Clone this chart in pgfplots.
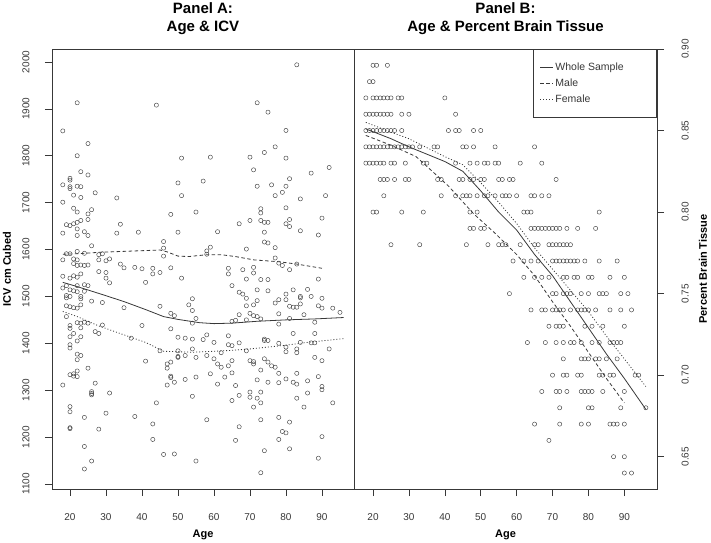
\documentclass[border=0pt]{standalone}
\usepackage{fontspec}
\setmainfont{Liberation Sans}
\usepackage{pgfplots}
\pgfplotsset{compat=1.18}

\definecolor{ink}{gray}{0.22}
\definecolor{pt}{gray}{0.25}

\pgfplotsset{
  panel/.style={
    scale only axis, height=440bp, enlargelimits=false,
    axis line style={ink, line width=0.6bp},
    tick align=outside, major tick length=7bp,
    tick style={ink, line width=0.6bp},
    xtick={20,30,...,90}, xtick pos=bottom,
    tick label style={font=\fontsize{10bp}{12bp}\selectfont, text=ink},
    /pgf/number format/assume math mode=true,
    /pgf/number format/1000 sep={},
    xticklabel shift=14bp,
    xlabel={Age},
    xlabel style={at={(axis description cs:0.5,-0.1045)}, anchor=center},
    label style={font=\bfseries\fontsize{11bp}{13bp}\selectfont},
    title style={font=\bfseries\fontsize{15bp}{18bp}\selectfont, align=center,
      at={(axis description cs:0.5,1.055)}, anchor=center, yshift=0pt},
  },
  pts/.style={only marks, mark=o, mark size=2.1bp,
    mark options={line width=0.45bp, draw=pt}},
  whole/.style={ink, line width=0.8bp, no marks},
  male/.style={ink, line width=0.8bp, dash pattern=on 3.5bp off 2.5bp, no marks},
  female/.style={ink, line width=0.8bp, dash pattern=on 1bp off 2bp, no marks},
}

\begin{document}
\begin{tikzpicture}
\useasboundingbox (0,0) rectangle (711bp,543bp);

% Panel A
\begin{axis}[panel,
  at={(52bp,54bp)}, anchor=south west, width=302bp,
  xmin=15, xmax=98.9, ymin=1089.3, ymax=2027.7,
  ytick={1100,1200,...,2000}, ytick pos=left,
  yticklabel style={rotate=90, anchor=south},
  yticklabel shift=12bp,
  ylabel={ICV cm Cubed},
  ylabel style={at={(axis description cs:-0.149,0.5)}, anchor=center},
  title={Panel A:\\Age \& ICV},
]
\addplot[pts] coordinates {
(18,1853) (22,1913) (22,1800) (25,1826) (23,1766) (25,1759) (20,1752) (20,1748)
(18,1738) (20,1734) (20,1730) (22,1735) (23,1734) (27,1721) (21,1716) (23,1711)
(33,1710) (18,1701) (21,1688) (22,1680) (26,1685) (25,1676) (25,1664) (34,1654)
(20,1651) (22,1658) (23,1662) (19,1653) (21,1655) (18,1635) (22,1644) (24,1638)
(25,1630) (33,1635) (39,1637) (22,1630) (26,1608)
(19,1591) (20,1591) (18,1578) (22,1596) (24,1592) (28,1589) (29,1591) (31,1580)
(30,1576) (28,1578) (21,1580) (22,1578) (21,1570) (22,1566) (23,1567) (24,1566)
(25,1567) (34,1569) (38,1562) (40,1559) (30,1551)
(18,1543) (20,1539) (21,1544) (22,1541) (23,1548) (28,1553) (30,1539) (31,1529)
(35,1561) (41,1530)
(18,1518) (19,1523) (20,1514) (21,1512) (22,1510) (22,1523) (24,1525) (25,1523)
(24,1511) (19,1502) (19,1497) (20,1500) (23,1500) (23,1495) (26,1490) (29,1487)
(19,1480) (20,1478) (21,1476) (22,1475) (23,1482) (35,1476) (19,1457) (20,1438)
(20,1432) (22,1444) (23,1443) (24,1445) (25,1443) (29,1439) (27,1425) (28,1421)
(21,1421) (23,1433) (20,1414) (22,1405) (23,1414) (37,1411) (40,1438) (20,1397)
(20,1390) (22,1377) (23,1374) (22,1365) (41,1362) (25,1347) (22,1341) (20,1333)
(21,1330) (22,1329) (21,1335) (18,1311) (27,1315) (26,1297) (26,1290) (26,1293)
(31,1294) (20,1265) (20,1254) (24,1242) (30,1251) (20,1220) (20,1218) (28,1217)
(38,1244) (24,1180) (26,1149) (24,1132)
(44,1908) (51,1795) (59,1797) (70,1797) (71,1770) (50,1742) (57,1746) (51,1715)
(48,1675) (55,1680) (67,1655) (70,1662) (50,1637) (61,1638) (46,1617) (46,1603)
(46,1586) (58,1590) (59,1605) (58,1597) (69,1601)
(43,1560) (43,1548) (45,1551) (48,1561) (51,1539) (64,1560) (64,1548) (68,1557)
(71,1562) (71,1550) (69,1537)
(65,1523) (67,1509) (68,1505) (69,1496) (69,1480) (71,1482) (70,1464) (71,1459)
(54,1495) (54,1470) (53,1482) (45,1479) (48,1464) (49,1459) (55,1453) (54,1443)
(48,1431) (66,1449) (65,1447) (67,1461) (69,1450)
(50,1413) (52,1411) (54,1409) (58,1418) (57,1408) (60,1402) (64,1416) (65,1395)
(64,1397) (67,1401)
(45,1384) (50,1384) (50,1372) (50,1370) (52,1374) (54,1388) (55,1370) (58,1374)
(62,1380) (60,1367) (61,1356) (62,1349) (64,1352) (65,1363) (69,1384) (70,1363)
(71,1361) (71,1356) (47,1356) (48,1360) (47,1347) (48,1330) (48,1327) (47,1311)
(49,1317) (52,1323) (55,1328) (59,1335) (61,1313) (63,1328) (65,1337) (66,1310)
(67,1289) (65,1278) (70,1296) (70,1285) (71,1264) (44,1273) (54,1287) (43,1228)
(43,1195) (58,1237) (67,1222) (66,1193) (46,1163) (49,1164) (55,1149)
(83,1994) (72,1913) (75,1893) (80,1854) (77,1819) (74,1807) (80,1795) (92,1775)
(87,1763) (81,1751) (72,1735) (76,1738) (80,1735) (77,1715) (79,1722) (91,1715)
(84,1708) (73,1687) (73,1678) (80,1689) (73,1662) (74,1658) (75,1658) (81,1664)
(80,1655) (81,1649) (90,1667) (84,1640) (74,1637) (89,1631) (74,1616) (75,1614)
(77,1604) (77,1582) (78,1571) (79,1566) (81,1557) (83,1569)
(73,1536) (75,1536) (89,1537) (72,1514) (75,1512) (82,1514) (86,1515) (90,1496)
(78,1493) (77,1486) (80,1505) (80,1493) (84,1500) (84,1497) (87,1500) (89,1480)
(90,1475) (93,1475) (95,1466) (81,1479) (82,1477) (83,1477) (84,1484) (78,1463)
(85,1461) (72,1457) (73,1452) (81,1453) (88,1445) (78,1441) (82,1421) (88,1421)
(72,1491) (74,1409) (74,1406) (75,1406) (78,1400) (80,1392) (80,1382) (83,1388)
(83,1380) (84,1402) (88,1401) (87,1401) (92,1388) (90,1363) (88,1370) (74,1367)
(75,1360) (76,1352) (77,1349) (72,1322) (75,1317) (78,1316) (80,1324) (82,1317)
(83,1313) (89,1329) (90,1308) (90,1301) (86,1320) (86,1294) (73,1296) (73,1273)
(72,1283) (73,1343) (78,1336) (83,1336) (83,1283) (85,1264) (93,1273) (73,1237)
(78,1242) (81,1232) (79,1212) (80,1209) (78,1195) (81,1175) (90,1201) (89,1155)
(74,1171) (73,1124)
};
\addplot[whole] coordinates {
(18,1530) (22,1521) (29,1504) (35,1489) (41,1472) (46,1457) (50,1451) (56,1444)
(60,1442) (65,1443) (72,1447) (80,1450) (88,1452) (96,1455)
};
\addplot[male] coordinates {
(18,1590) (22,1591) (28,1594) (38,1597) (45,1599) (47,1595) (50,1586) (53,1585)
(58,1589) (62,1589) (66,1585) (71,1578) (78,1574) (83,1569) (90,1560)
};
\addplot[female] coordinates {
(18,1468) (22,1457) (28,1437) (35,1418) (41,1402) (46,1383) (50,1382) (54,1381)
(60,1383) (65,1385) (70,1388) (75,1392) (80,1396) (86,1402) (96,1410)
};
\end{axis}

% Panel B
\begin{axis}[panel,
  at={(354bp,54bp)}, anchor=south west, width=303bp,
  xmin=14.7, xmax=99.1, ymin=0.6302, ymax=0.90,
  ytick={0.65,0.70,...,0.90}, ytick pos=right, yticklabel pos=right,
  yticklabel style={rotate=90, anchor=north,
    /pgf/number format/.cd, fixed, fixed zerofill, precision=2},
  yticklabel shift=14bp,
  ylabel={Percent Brain Tissue},
  ylabel style={at={(axis description cs:1.152,0.5)}, anchor=center},
  title={Panel B:\\Age \& Percent Brain Tissue},
  legend style={at={(1,1)}, anchor=north east, draw=ink, line width=0.6bp,
    font=\fontsize{10.5bp}{12bp}\selectfont, text=ink,
    inner xsep=6bp, inner ysep=12bp, row sep=2.5bp},
  legend cell align=left,
  legend image code/.code={\draw[#1] (4bp,0bp) -- (17bp,0bp);},
]
\addlegendimage{whole}
\addlegendentry{Whole Sample\hspace{25bp}\mbox{}}
\addlegendimage{male}
\addlegendentry{Male}
\addlegendimage{female}
\addlegendentry{Female}
\addplot[pts, forget plot] table[row sep=\\] {
x y\\
20 0.89\\ 21 0.89\\ 24 0.89\\
19 0.88\\ 20 0.88\\
18 0.87\\ 20 0.87\\ 21 0.87\\ 22 0.87\\ 23 0.87\\ 24 0.87\\ 25 0.87\\ 27 0.87\\ 28 0.87\\ 40 0.87\\
18 0.86\\ 19 0.86\\ 20 0.86\\ 21 0.86\\ 22 0.86\\ 23 0.86\\ 24 0.86\\ 25 0.86\\ 28 0.86\\ 30 0.86\\ 43 0.86\\
18 0.85\\ 19 0.85\\ 20 0.85\\ 21 0.85\\ 22 0.85\\ 23 0.85\\ 24 0.85\\ 25 0.85\\ 26 0.85\\ 28 0.85\\
41 0.85\\ 43 0.85\\ 44 0.85\\ 48 0.85\\ 50 0.85\\
18 0.84\\ 19 0.84\\ 20 0.84\\ 21 0.84\\ 22 0.84\\ 23 0.84\\ 24 0.84\\ 25 0.84\\ 26 0.84\\ 27 0.84\\
28 0.84\\ 29 0.84\\ 30 0.84\\ 31 0.84\\ 33 0.84\\ 37 0.84\\ 38 0.84\\ 45 0.84\\ 46 0.84\\ 48 0.84\\
54 0.84\\ 65 0.84\\
18 0.83\\ 19 0.83\\ 20 0.83\\ 21 0.83\\ 22 0.83\\ 23 0.83\\ 25 0.83\\ 26 0.83\\ 29 0.83\\ 34 0.83\\
35 0.83\\ 43 0.83\\ 47 0.83\\ 49 0.83\\ 51 0.83\\ 52 0.83\\ 54 0.83\\ 55 0.83\\ 61 0.83\\ 67 0.83\\
22 0.82\\ 23 0.82\\ 24 0.82\\ 26 0.82\\ 29 0.82\\ 30 0.82\\ 38 0.82\\ 39 0.82\\ 44 0.82\\ 45 0.82\\
47 0.82\\ 48 0.82\\ 50 0.82\\ 51 0.82\\ 55 0.82\\ 56 0.82\\ 58 0.82\\ 59 0.82\\ 71 0.82\\
23 0.81\\ 39 0.81\\ 43 0.81\\ 45 0.81\\ 46 0.81\\ 47 0.81\\ 49 0.81\\ 51 0.81\\ 52 0.81\\ 54 0.81\\
56 0.81\\ 57 0.81\\ 58 0.81\\ 60 0.81\\ 64 0.81\\ 65 0.81\\ 67 0.81\\ 69 0.81\\
20 0.80\\ 21 0.80\\ 28 0.80\\ 34 0.80\\ 47 0.80\\ 49 0.80\\ 62 0.80\\ 63 0.80\\ 64 0.80\\ 83 0.80\\
47 0.79\\ 48 0.79\\ 50 0.79\\ 51 0.79\\ 64 0.79\\ 65 0.79\\ 66 0.79\\ 67 0.79\\ 68 0.79\\ 69 0.79\\
70 0.79\\ 71 0.79\\ 72 0.79\\ 74 0.79\\ 77 0.79\\ 82 0.79\\
25 0.78\\ 33 0.78\\ 46 0.78\\ 52 0.78\\ 55 0.78\\ 56 0.78\\ 57 0.78\\ 61 0.78\\ 65 0.78\\ 66 0.78\\
69 0.78\\ 70 0.78\\ 71 0.78\\ 72 0.78\\ 73 0.78\\ 74 0.78\\ 75 0.78\\
59 0.77\\ 62 0.77\\ 64 0.77\\ 66 0.77\\ 70 0.77\\ 71 0.77\\ 72 0.77\\ 73 0.77\\ 74 0.77\\ 75 0.77\\
76 0.77\\ 77 0.77\\ 79 0.77\\ 83 0.77\\ 88 0.77\\
62 0.76\\ 65 0.76\\ 67 0.76\\ 69 0.76\\ 73 0.76\\ 74 0.76\\ 76 0.76\\ 77 0.76\\ 80 0.76\\ 81 0.76\\
86 0.76\\ 90 0.76\\
58 0.75\\ 70 0.75\\ 71 0.75\\ 73 0.75\\ 74 0.75\\ 75 0.75\\ 78 0.75\\ 80 0.75\\ 83 0.75\\ 84 0.75\\
85 0.75\\ 89 0.75\\ 91 0.75\\
64 0.74\\ 67 0.74\\ 68 0.74\\ 70 0.74\\ 71 0.74\\ 72 0.74\\ 73 0.74\\ 75 0.74\\ 77 0.74\\ 78 0.74\\
79 0.74\\ 80 0.74\\ 82 0.74\\ 86 0.74\\ 89 0.74\\ 92 0.74\\
69 0.73\\ 71 0.73\\ 72 0.73\\ 73 0.73\\ 79 0.73\\ 81 0.73\\ 84 0.73\\ 90 0.73\\
63 0.72\\ 68 0.72\\ 71 0.72\\ 73 0.72\\ 75 0.72\\ 76 0.72\\ 78 0.72\\ 81 0.72\\ 83 0.72\\ 86 0.72\\
87 0.72\\ 88 0.72\\ 89 0.72\\
73 0.71\\ 78 0.71\\ 79 0.71\\ 80 0.71\\ 82 0.71\\ 83 0.71\\ 85 0.71\\ 88 0.71\\
70 0.70\\ 73 0.70\\ 74 0.70\\ 77 0.70\\ 78 0.70\\ 83 0.70\\ 84 0.70\\ 86 0.70\\ 87 0.70\\ 93 0.70\\ 94 0.70\\
67 0.69\\ 71 0.69\\ 72 0.69\\ 74 0.69\\ 78 0.69\\ 79 0.69\\ 80 0.69\\ 81 0.69\\ 84 0.69\\ 90 0.69\\
72 0.68\\ 80 0.68\\ 81 0.68\\ 89 0.68\\ 96 0.68\\
65 0.67\\ 72 0.67\\ 78 0.67\\ 80 0.67\\ 86 0.67\\ 87 0.67\\ 88 0.67\\ 90 0.67\\
69 0.66\\
87 0.65\\ 90 0.65\\
90 0.64\\ 92 0.64\\
};
\addplot[whole, forget plot] coordinates {
(18,0.851) (25,0.845) (30,0.840) (40,0.831) (45,0.825) (50,0.813) (55,0.800)
(60,0.789) (65,0.774) (70,0.761) (75,0.745) (80,0.729) (85,0.713) (90,0.698) (96,0.679)
};
\addplot[male, forget plot] coordinates {
(18,0.847) (25,0.841) (32,0.834) (41,0.816) (48,0.799) (54,0.787) (60,0.774)
(65,0.761) (70,0.745) (75,0.730) (80,0.714) (85,0.698) (90,0.683)
};
\addplot[female, forget plot] coordinates {
(18,0.855) (25,0.849) (30,0.845) (40,0.834) (45,0.829) (50,0.818) (55,0.806)
(60,0.793) (65,0.778) (70,0.765) (75,0.752) (80,0.739) (85,0.724) (90,0.710) (96,0.693)
};
\end{axis}
\end{tikzpicture}
\end{document}
